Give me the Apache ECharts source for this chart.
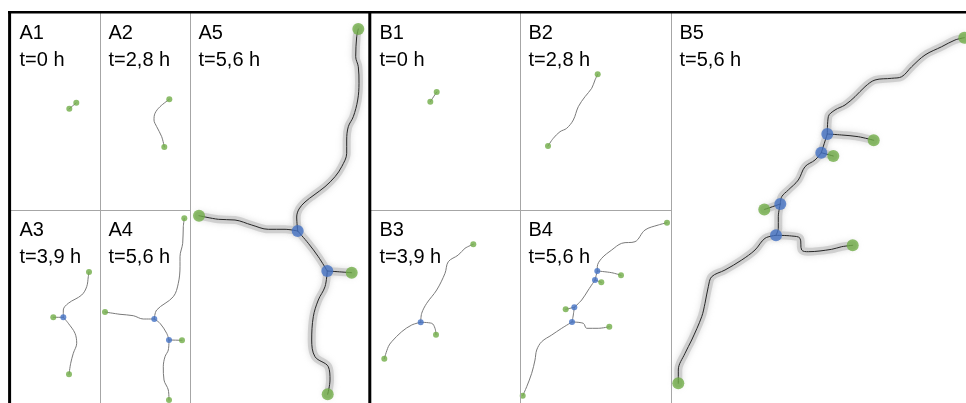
<!DOCTYPE html>
<html>
<head>
<meta charset="utf-8">
<script src="https://cdn.jsdelivr.net/npm/echarts@6/dist/echarts.min.js"></script>
<style>
  html, body { margin: 0; padding: 0; background: #fff; }
  #chart { width: 966px; height: 403px; }
</style>
</head>
<body>
<div id="chart"></div>
<script>
// Panel titles and acquisition times
const panelNames = ['A1', 'A2', 'A3', 'A4', 'A5', 'B1', 'B2', 'B3', 'B4', 'B5'];
const panelTimes = ['t=0 h', 't=2,8 h', 't=3,9 h', 't=5,6 h', 't=5,6 h',
                    't=0 h', 't=2,8 h', 't=3,9 h', 't=5,6 h', 't=5,6 h'];

// Traced segments (panel-local coordinates, x right, y down), tips and branch points
const a1Edges = [[[65, 90], [58, 96]]];
const a1Tips = [[65.3, 89.7], [58.3, 95.7]];
const a1Branches = [];

const a2Edges = [[[69.3, 86.3], [60, 93.7], [55, 100.3], [54, 107], [56.7, 113.7], [61.7, 123.7], [64.3, 134]]];
const a2Tips = [[69.3, 86.3], [64.3, 134]];
const a2Branches = [];

const a3Edges = [
  [[78, 62], [77.3, 66.7], [75.7, 76.7], [70.7, 85], [57.3, 93.3], [52.3, 100], [52.3, 107.3]],
  [[42.3, 107.3], [52.3, 107.3]],
  [[52.3, 107.3], [57.3, 113.3], [64, 123.3], [65.7, 133.3], [62.3, 143.3], [59.7, 153.3], [58, 164.3]]
];
const a3Tips = [[78, 62], [42.3, 107.3], [58, 164.3]];
const a3Branches = [[52.3, 107.3]];

const a4Edges = [
  [[84.3, 8.3], [83.3, 16.7], [82.7, 33.3], [80, 46.7], [80, 56.7], [78.3, 73.3], [73.3, 86.7], [56.7, 100], [54.3, 109]],
  [[5, 102], [20, 104.3], [33.3, 105.7], [43.3, 109], [54.3, 109]],
  [[54.3, 109], [60, 113.3], [66.7, 123.3], [69, 130]],
  [[69, 130], [82, 130.3]],
  [[69, 130], [68.3, 140], [65, 146.7], [63.3, 156.7], [64, 170], [68.3, 180], [69, 190]]
];
const a4Tips = [[84.3, 8.3], [5, 102], [82, 130.3], [69, 190]];
const a4Branches = [[54.3, 109], [69, 130]];

const a5Edges = [
  [[168.3, 16], [166.7, 23.7], [165.7, 43.7], [168.3, 53.7], [169, 70.3], [167.7, 87], [163.3, 103.7], [158.3, 113.7],
   [156.7, 127], [156.7, 140.3], [151.7, 153.7], [145, 163.7], [135, 173.7], [124, 182], [115, 189], [109, 196],
   [106.7, 204], [107.7, 218]],
  [[9, 202.7], [28.3, 206.3], [45, 207], [61.7, 212], [78.3, 216.3], [95, 216.3], [107.7, 218]],
  [[107.7, 218], [118.3, 230.3], [128.3, 243.7], [137.3, 258]],
  [[137.3, 258], [161.7, 259.7]],
  [[137.3, 258], [135, 273.7], [128.3, 287], [123.3, 303.7], [121.7, 327], [125, 343.7], [138.3, 353.7], [140, 367], [137.7, 381.3]]
];
const a5Tips = [[168.3, 16], [9, 202.7], [161.7, 259.7], [137.7, 381.3]];
const a5Branches = [[107.7, 218], [137.3, 258]];

const b1Edges = [[[65.7, 79], [59.3, 88.7]]];
const b1Tips = [[65.7, 79], [59.3, 88.7]];
const b1Branches = [];

const b2Edges = [[[77.7, 61.3], [75, 67], [71.7, 75.3], [65, 83.7], [58.3, 93.7], [53.3, 107], [46.7, 115.3], [40, 118.7], [33.3, 125.3], [28, 133]]];
const b2Tips = [[77.7, 61.3], [28, 133]];
const b2Branches = [];

const b3Edges = [
  [[102.3, 34.3], [94, 38.3], [87.3, 45], [77.3, 51.7], [74, 63.3], [65.7, 80], [55.7, 93.3], [50.7, 103.3], [49.7, 112.3]],
  [[49.7, 112.3], [60.7, 113.3], [64, 118.3], [65, 124.7]],
  [[49.7, 112.3], [40.7, 115], [30.7, 121.7], [20.7, 131.7], [17.3, 136.7], [13.3, 148.7]]
];
const b3Tips = [[102.3, 34.3], [65, 124.7], [13.3, 148.7]];
const b3Branches = [[49.7, 112.3]];

const b4Edges = [
  [[147, 12.7], [138.3, 15], [125, 20], [115, 31.7], [101.7, 33.3], [91.7, 40], [81.7, 48.3], [77.3, 56.7], [77.3, 61]],
  [[77.3, 61], [91.7, 62.7], [101, 65.3]],
  [[77.3, 61], [75, 70]],
  [[75, 70], [81.3, 72.3]],
  [[75, 70], [68.3, 80], [61.7, 90], [54.3, 97.3]],
  [[54.3, 97.3], [45.7, 99.3]],
  [[54.3, 97.3], [53.3, 105], [52, 112]],
  [[52, 112], [63.3, 113.3], [66.7, 118.3], [78.3, 118.3], [89.3, 116.7]],
  [[52, 112], [41.7, 118.3], [31.7, 125], [21.7, 131.7], [16.7, 140], [15, 150], [11.7, 163.3], [6.7, 176.7], [2.7, 185.7]]
];
const b4Tips = [[147, 12.7], [101, 65.3], [81.3, 72.3], [45.7, 99.3], [89.3, 116.7], [2.7, 185.7]];
const b4Branches = [[77.3, 61], [75, 70], [54.3, 97.3], [52, 112]];

const b5Edges = [
  [[293.3, 24.7], [284, 27], [270.7, 33.7], [254, 42], [240.7, 53.7], [230.7, 63.7], [220.7, 65.3], [204, 67], [194, 73.7],
   [184, 83.7], [174, 92], [164, 97], [157.3, 103.7], [156.3, 121]],
  [[156.3, 121], [170.7, 122], [187.3, 123.7], [202.7, 127.3]],
  [[156.3, 121], [150.3, 139.7]],
  [[150.3, 139.7], [162.3, 143]],
  [[150.3, 139.7], [144, 147], [134, 153.7], [127.3, 167], [117.3, 177], [110.7, 183.7], [109.3, 191]],
  [[109.3, 191], [93.3, 196.5]],
  [[109.3, 191], [107.3, 203.7], [107.3, 215.3], [105, 222.3]],
  [[105, 222.3], [120.7, 223], [129, 225.3], [130.7, 237], [137.3, 238.7], [160.7, 236.3], [170.7, 233.7], [181.7, 232.3]],
  [[105, 222.3], [94, 225.3], [84, 237], [70.7, 247], [54, 257], [40.7, 263.7], [37.3, 273.7], [34, 290.3], [30.7, 303.7],
   [20.7, 327], [14, 340.3], [7.3, 357], [7.3, 370.3]]
];
const b5Tips = [[293.3, 24.7], [202.7, 127.3], [162.3, 143], [93.3, 196.5], [181.7, 232.3], [7.3, 370.3]];
const b5Branches = [[156.3, 121], [150.3, 139.7], [109.3, 191], [105, 222.3]];

const edgesByPanel = [a1Edges, a2Edges, a3Edges, a4Edges, a5Edges, b1Edges, b2Edges, b3Edges, b4Edges, b5Edges];
const tipsByPanel = [a1Tips, a2Tips, a3Tips, a4Tips, a5Tips, b1Tips, b2Tips, b3Tips, b4Tips, b5Tips];
const branchesByPanel = [a1Branches, a2Branches, a3Branches, a4Branches, a5Branches,
                         b1Branches, b2Branches, b3Branches, b4Branches, b5Branches];

// Panel frames on the page: [left, top, width, height, enlarged view]
const frames = [
  [11, 13, 89, 197, false], [100, 13, 90, 197, false], [11, 210, 89, 193, false], [100, 210, 90, 193, false],
  [190, 13, 179, 390, true],
  [371, 13, 149, 197, false], [520, 13, 151, 197, false], [371, 210, 149, 193, false], [520, 210, 151, 193, false],
  [671, 13, 295, 390, true]
];

const GREEN = '#70AD47';
const BLUE = '#4472C4';

const grids = [], xAxes = [], yAxes = [], series = [];
frames.forEach(([left, top, w, h, big], i) => {
  grids.push({ left, top, width: w, height: h, show: false });
  xAxes.push({ type: 'value', gridIndex: i, min: 0, max: w, show: false });
  yAxes.push({ type: 'value', gridIndex: i, min: 0, max: h, inverse: true, show: false });
  edgesByPanel[i].forEach(path => {
    if (big) {
      // soft grey halo under the enlarged traces
      series.push({
        type: 'line', xAxisIndex: i, yAxisIndex: i, data: path, smooth: 0.35, showSymbol: false,
        silent: true, z: 1, clip: false,
        lineStyle: { width: 8, color: 'rgba(200,200,200,0.8)', cap: 'round', join: 'round',
                     shadowBlur: 6, shadowColor: 'rgba(175,175,175,0.5)' }
      });
    }
    series.push({
      type: 'line', xAxisIndex: i, yAxisIndex: i, data: path, smooth: 0.35, showSymbol: false,
      silent: true, z: 2, clip: false,
      lineStyle: { width: 1, color: big ? '#262626' : '#7a7a7a', cap: 'round', join: 'round' }
    });
  });
  series.push({
    type: 'scatter', xAxisIndex: i, yAxisIndex: i, data: tipsByPanel[i], symbolSize: big ? 12 : 6,
    itemStyle: { color: GREEN }, z: 3, silent: true, clip: false
  });
  series.push({
    type: 'scatter', xAxisIndex: i, yAxisIndex: i, data: branchesByPanel[i], symbolSize: big ? 12 : 6,
    itemStyle: { color: BLUE }, z: 4, silent: true, clip: false
  });
});

// Frame lines and panel captions
const graphics = [];
const grey = { stroke: '#a6a6a6', lineWidth: 1 };
[[100.5, 13, 100.5, 403], [190.5, 13, 190.5, 403], [520.5, 13, 520.5, 403], [671.5, 13, 671.5, 403],
 [11, 210.5, 190, 210.5], [371, 210.5, 671, 210.5]].forEach(([x1, y1, x2, y2]) => {
  graphics.push({ type: 'line', shape: { x1, y1, x2, y2 }, style: grey, z: 10 });
});
graphics.push({ type: 'line', shape: { x1: 8, y1: 12.2, x2: 966, y2: 12.2 }, style: { stroke: '#000', lineWidth: 2.5 }, z: 11 });
graphics.push({ type: 'line', shape: { x1: 9.6, y1: 11, x2: 9.6, y2: 403 }, style: { stroke: '#000', lineWidth: 3 }, z: 11 });
graphics.push({ type: 'line', shape: { x1: 369.8, y1: 11, x2: 369.8, y2: 403 }, style: { stroke: '#000', lineWidth: 3 }, z: 11 });

frames.forEach(([left, top], i) => {
  graphics.push({
    type: 'text', x: left + 8.5, y: top + 7, z: 12,
    style: {
      text: panelNames[i] + '\n' + panelTimes[i],
      font: '20px "Liberation Sans", Arial, sans-serif',
      fill: '#000', lineHeight: 27, verticalAlign: 'top'
    }
  });
});

const chart = echarts.init(document.getElementById('chart'), null, { renderer: 'canvas' });
chart.setOption({
  animation: false,
  backgroundColor: '#fff',
  grid: grids,
  xAxis: xAxes,
  yAxis: yAxes,
  series,
  graphic: graphics
});
</script>
</body>
</html>
